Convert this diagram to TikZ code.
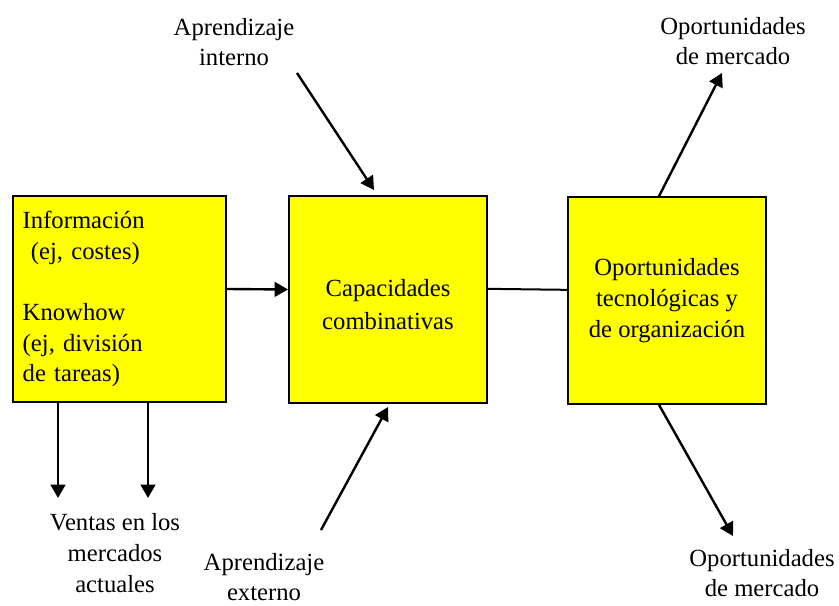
\documentclass[tikz,border=0pt]{standalone}
\usepackage{fontspec}
\setmainfont{Liberation Serif}
\usetikzlibrary{arrows.meta}
\definecolor{amarillo}{RGB}{255,255,0}
\newcommand{\txtsize}{\fontsize{18.5}{23}\selectfont}

\begin{document}
\begin{tikzpicture}[
    x=0.75pt, y=-0.75pt,
    caja/.style  ={draw, line width=1.5pt, fill=amarillo, inner sep=0pt, font=\txtsize},
    etiq/.style  ={align=center, font=\txtsize, inner sep=0pt},
    flecha/.style={-{Triangle[length=10pt,width=11pt]}, line width=1.8pt},
    linea/.style ={line width=1.5pt}
]
\useasboundingbox (0,0) rectangle (839,606);

% Boxes
\node[caja, minimum width=160pt, minimum height=154.5pt, text width=145pt, align=left]
     (info) at (119.4,299) {Información\\\ (ej, costes)\\[23pt]Knowhow\\(ej, división\\de tareas)};
\node[caja, minimum width=148.5pt, minimum height=155pt, align=center]
     (capac) at (388,299.5) {\mbox{}\\[-3pt]Capacidades\\[1.5pt]combinativas};
\node[caja, minimum width=148.5pt, minimum height=155pt, align=center]
     (oport) at (667,300.5) {Oportunidades\\tecnológicas y\\de organización};

% Outer labels
\node[etiq] (apint)  at (234,42)  {Aprendizaje\\interno};
\node[etiq] (apext)  at (264,577) {Aprendizaje\\externo};
\node[etiq] (ventas) at (115,553) {Ventas en los\\mercados\\actuales};
\node[etiq] (opmA)   at (733,41)  {Oportunidades\\de mercado};
\node[etiq] (opmB)   at (762,573) {Oportunidades\\de mercado};

% Free arrow ends
\coordinate (apint-s) at (297,73);
\coordinate (apint-e) at (374,190);
\coordinate (apext-s) at (321,530);
\coordinate (apext-e) at (388,407);
\coordinate (ventA)   at (58,498);
\coordinate (ventB)   at (148,498);
\coordinate (opmA-e)  at (722,73);
\coordinate (opmB-e)  at (733,536);

% Connectors
\draw[flecha] ([yshift=7.5pt]info.east) -- ([yshift=7.5pt]capac.west);
\draw[linea]  ([yshift=8pt]capac.east) -- ([yshift=8pt]oport.west);
\draw[flecha] (apint-s) -- (apint-e);
\draw[flecha] (apext-s) -- (apext-e);
\draw[flecha] (info.south -| ventA) -- (ventA);
\draw[flecha] (info.south -| ventB) -- (ventB);
\draw[flecha] ([xshift=-6pt]oport.north) -- (opmA-e);
\draw[flecha] ([xshift=-6pt]oport.south) -- (opmB-e);
\end{tikzpicture}
\end{document}
